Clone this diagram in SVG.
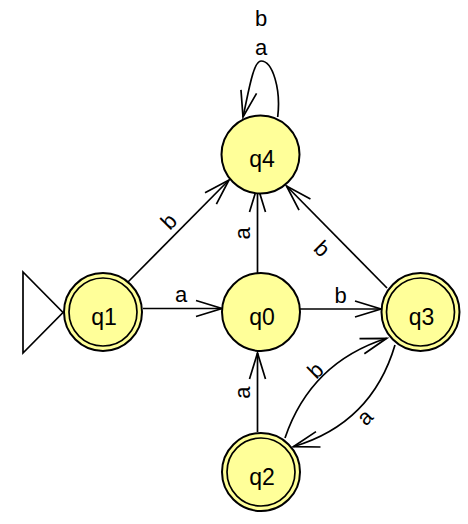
<svg xmlns="http://www.w3.org/2000/svg" width="468" height="524" viewBox="0 0 468 524">
<style>
.edge{fill:none;stroke:#000;stroke-width:1.7;marker-end:url(#arr)}
.st{fill:#ffff99;stroke:#000;stroke-width:2}
.in{fill:none;stroke:#000;stroke-width:1.7}
.sl{font-family:"Liberation Sans",Arial,sans-serif;font-size:23px;fill:#000;text-anchor:middle}
.el{font-family:"Liberation Sans",Arial,sans-serif;font-size:22px;fill:#000;text-anchor:middle}
</style>
<defs>
<marker id="arr" markerUnits="userSpaceOnUse" orient="auto" markerWidth="30" markerHeight="20" viewBox="-28 -10 30 20" refX="0" refY="0" overflow="visible">
<path d="M-26,-8 L0,0 L-26,8" fill="none" stroke="#000" stroke-width="1.7"/>
</marker>
</defs>
<rect width="468" height="524" fill="#fff"/>
<g id="connectors">
<path class="edge" d="M143,308.5 L222,308.5"/>
<path class="edge" d="M300,309 L381,309"/>
<path class="edge" d="M257.5,273 L257.5,186"/>
<path class="edge" d="M257.5,432 L257.5,353"/>
<path class="edge" d="M128,282 L229,180"/>
<path class="edge" d="M387,288 L286.5,186"/>
<path class="edge" d="M285,438 Q310.7,362.5 386.7,338.3"/>
<path class="edge" d="M395,345 Q371.8,423.5 293.3,446.7"/>
<path class="edge" d="M277.7,117 C281,90 273,61 261,61 C253,61 248,95 243,117"/>
<text class="el" x="181" y="302">a</text>
<text class="el" x="340.5" y="302.5">b</text>
<text class="el" x="261" y="55">a</text>
<text class="el" x="261" y="26">b</text>
<text class="el" transform="translate(168.3,221) rotate(-45)" y="8">b</text>
<text class="el" transform="translate(244.2,233.3) rotate(-90)" y="5.7">a</text>
<text class="el" transform="translate(244.5,392.5) rotate(-90)" y="5.7">a</text>
<text class="el" transform="translate(322.5,248.3) rotate(44.5)" y="8">b</text>
<text class="el" transform="translate(315,370) rotate(-44)" y="8">b</text>
<text class="el" transform="translate(366,418.3) rotate(-45)" y="5.7">a</text>
</g>
<g id="q4">
<circle class="st" cx="260.5" cy="154.5" r="39"/>
<text class="sl" x="262" y="167">q4</text>
</g>
<g id="q0">
<circle class="st" cx="261" cy="312" r="39"/>
<text class="sl" x="262" y="324.5">q0</text>
</g>
<g id="q1">
<polygon points="23,272 23,353 63,312.5" fill="#fff" stroke="#000" stroke-width="1.7"/>
<circle class="st" cx="103" cy="312" r="39"/>
<circle class="in" cx="103" cy="312" r="34"/>
<text class="sl" x="104" y="324.5">q1</text>
</g>
<g id="q3">
<circle class="st" cx="420.5" cy="312" r="39"/>
<circle class="in" cx="420.5" cy="312" r="34"/>
<text class="sl" x="421.5" y="324.5">q3</text>
</g>
<g id="q2">
<circle class="st" cx="261" cy="472" r="39"/>
<circle class="in" cx="261" cy="472" r="34"/>
<text class="sl" x="262" y="484.5">q2</text>
</g>
</svg>
